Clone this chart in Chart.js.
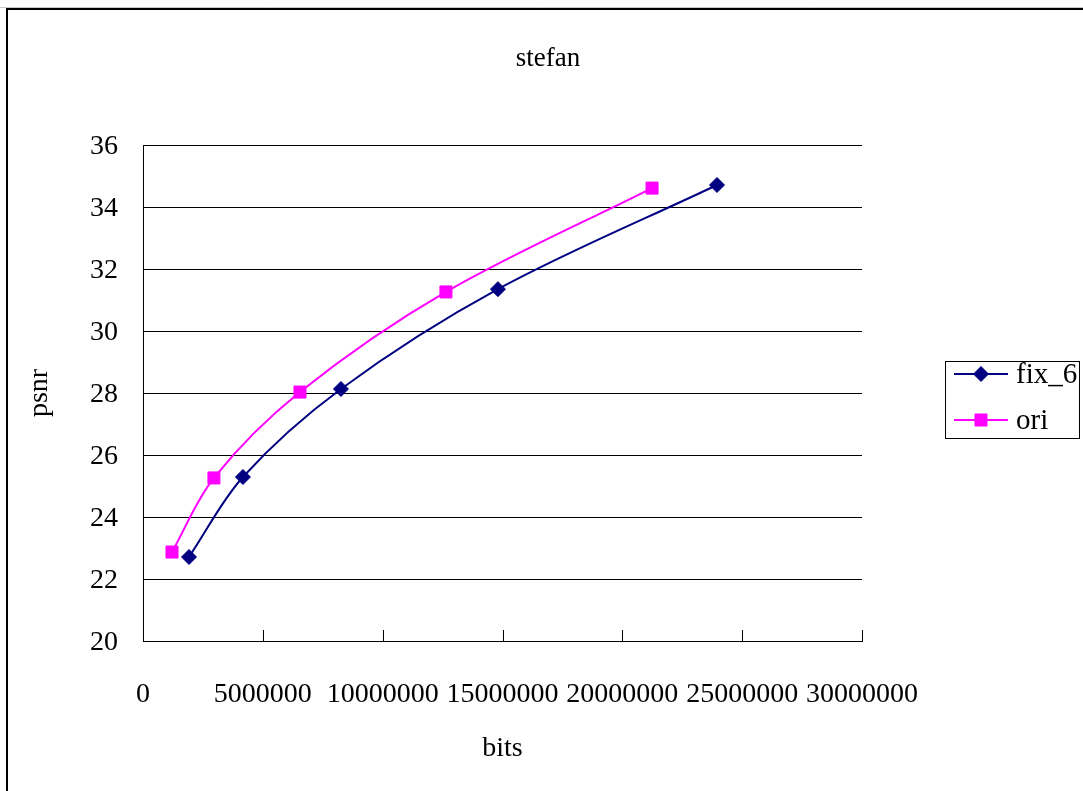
<!DOCTYPE html>
<html>
<head>
<meta charset="utf-8">
<script src="https://cdn.jsdelivr.net/npm/chart.js@4/dist/chart.umd.min.js"></script>
<style>
  html, body { margin: 0; padding: 0; background: #fff; }
  #wrap { width: 1083px; height: 791px; position: relative; }
</style>
</head>
<body>
<div id="wrap"><canvas id="c" width="1083" height="791"></canvas></div>
<script>
// Rate–distortion curves for the "stefan" sequence
const chartTitle = 'stefan';
const xAxisTitle = 'bits';
const yAxisTitle = 'psnr';

const xTickValues = [0, 5000000, 10000000, 15000000, 20000000, 25000000, 30000000];
const yTickValues = [20, 22, 24, 26, 28, 30, 32, 34, 36];

const seriesNames = ['fix_6', 'ori'];
const fix6Bits = [1920000, 4170000, 8260000, 14810000, 23950000];
const fix6Psnr = [22.71, 25.29, 28.13, 31.35, 34.71];
const oriBits = [1210000, 2960000, 6550000, 12640000, 21240000];
const oriPsnr = [22.87, 25.26, 28.03, 31.26, 34.61];

const FONT = '"Liberation Serif", "Times New Roman", serif';
const NAVY = '#000080';
const MAGENTA = '#FF00FF';

const toPoints = (xs, ys) => xs.map((x, i) => ({ x: x, y: ys[i] }));

// Page frame, chart title, inner x-axis tick marks and the boxed legend
const decorations = {
  id: 'decorations',
  beforeDraw(chart) {
    const ctx = chart.ctx;
    ctx.save();
    ctx.fillStyle = '#fff';
    ctx.fillRect(0, 0, chart.width, chart.height);
    ctx.restore();
  },
  afterDraw(chart) {
    const ctx = chart.ctx;
    ctx.save();

    // outer frame
    ctx.strokeStyle = '#c8c8c8';
    ctx.lineWidth = 1;
    ctx.beginPath();
    ctx.moveTo(0, 7.5); ctx.lineTo(chart.width, 7.5);
    ctx.stroke();
    ctx.strokeStyle = '#000';
    ctx.lineWidth = 2;
    ctx.beginPath();
    ctx.moveTo(7, chart.height); ctx.lineTo(7, 9); ctx.lineTo(chart.width, 9);
    ctx.stroke();

    // title
    ctx.fillStyle = '#000';
    ctx.font = '27px ' + FONT;
    ctx.textAlign = 'center';
    ctx.textBaseline = 'alphabetic';
    ctx.fillText(chartTitle, 548, 66);

    // tick marks on the x axis, pointing into the plot
    const xs = chart.scales.x;
    const bottom = chart.chartArea.bottom;
    ctx.strokeStyle = '#000';
    ctx.lineWidth = 1;
    ctx.beginPath();
    xTickValues.forEach(v => {
      if (v === xs.min) return;
      const px = Math.round(xs.getPixelForValue(v)) + 0.5;
      ctx.moveTo(px, bottom);
      ctx.lineTo(px, bottom - 11);
    });
    ctx.stroke();

    // legend
    const box = { x: 945.5, y: 361.5, w: 134, h: 77 };
    ctx.strokeStyle = '#000';
    ctx.lineWidth = 1;
    ctx.strokeRect(box.x, box.y, box.w, box.h);
    const rows = [374, 420];
    chart.data.datasets.forEach((ds, i) => {
      const y = rows[i];
      ctx.strokeStyle = ds.borderColor;
      ctx.lineWidth = ds.borderWidth;
      ctx.beginPath();
      ctx.moveTo(954, y); ctx.lineTo(1008, y);
      ctx.stroke();
      ctx.fillStyle = ds.pointBackgroundColor;
      ctx.strokeStyle = ds.pointBorderColor;
      ctx.lineWidth = 1;
      Chart.helpers.drawPoint(ctx, { pointStyle: ds.pointStyle, radius: ds.pointRadius, borderWidth: 1, rotation: 0 }, 981, y);
      ctx.fillStyle = '#000';
      ctx.font = '29px ' + FONT;
      ctx.textAlign = 'left';
      ctx.textBaseline = 'middle';
      ctx.fillText(ds.label, 1016, y + 1);
    });

    ctx.restore();
  }
};

new Chart(document.getElementById('c'), {
  type: 'line',
  data: {
    datasets: [
      {
        label: seriesNames[0],
        data: toPoints(fix6Bits, fix6Psnr),
        borderColor: NAVY,
        backgroundColor: NAVY,
        pointBackgroundColor: NAVY,
        pointBorderColor: NAVY,
        borderWidth: 2,
        pointStyle: 'rectRot',
        pointRadius: 7.5,
        pointBorderWidth: 1,
        tension: 0.33,
        fill: false
      },
      {
        label: seriesNames[1],
        data: toPoints(oriBits, oriPsnr),
        borderColor: MAGENTA,
        backgroundColor: MAGENTA,
        pointBackgroundColor: MAGENTA,
        pointBorderColor: MAGENTA,
        borderWidth: 2,
        pointStyle: 'rect',
        pointRadius: 8.5,
        pointBorderWidth: 1,
        tension: 0.33,
        fill: false
      }
    ]
  },
  options: {
    responsive: false,
    animation: false,
    devicePixelRatio: 1,
    layout: { padding: { left: 0, right: 221, top: 145, bottom: 0 } },
    plugins: {
      legend: { display: false },
      title: { display: false },
      tooltip: { enabled: false }
    },
    scales: {
      x: {
        type: 'linear',
        min: 0,
        max: 30000000,
        afterBuildTicks: s => { s.ticks = xTickValues.map(v => ({ value: v })); },
        afterFit: s => { s.height = 150; },
        grid: { display: false },
        border: { display: true, color: '#000', width: 1 },
        ticks: {
          autoSkip: false,
          maxRotation: 0,
          padding: 29,
          color: '#000',
          font: { family: FONT, size: 28 },
          callback: v => String(v)
        },
        title: {
          display: true,
          text: xAxisTitle,
          color: '#000',
          font: { family: FONT, size: 28 },
          padding: { top: 0, bottom: 26 }
        }
      },
      y: {
        type: 'linear',
        min: 20,
        max: 36,
        afterBuildTicks: s => { s.ticks = yTickValues.map(v => ({ value: v })); },
        afterFit: s => { s.width = 143; },
        grid: { color: '#000', lineWidth: 1, drawTicks: false },
        border: { display: true, color: '#000', width: 1 },
        ticks: {
          padding: 25,
          labelOffset: 2,
          color: '#000',
          font: { family: FONT, size: 28 },
          callback: v => String(v)
        },
        title: {
          display: true,
          text: yAxisTitle,
          color: '#000',
          font: { family: FONT, size: 28 },
          padding: { top: 23, bottom: 0 }
        }
      }
    }
  },
  plugins: [decorations]
});
</script>
</body>
</html>
